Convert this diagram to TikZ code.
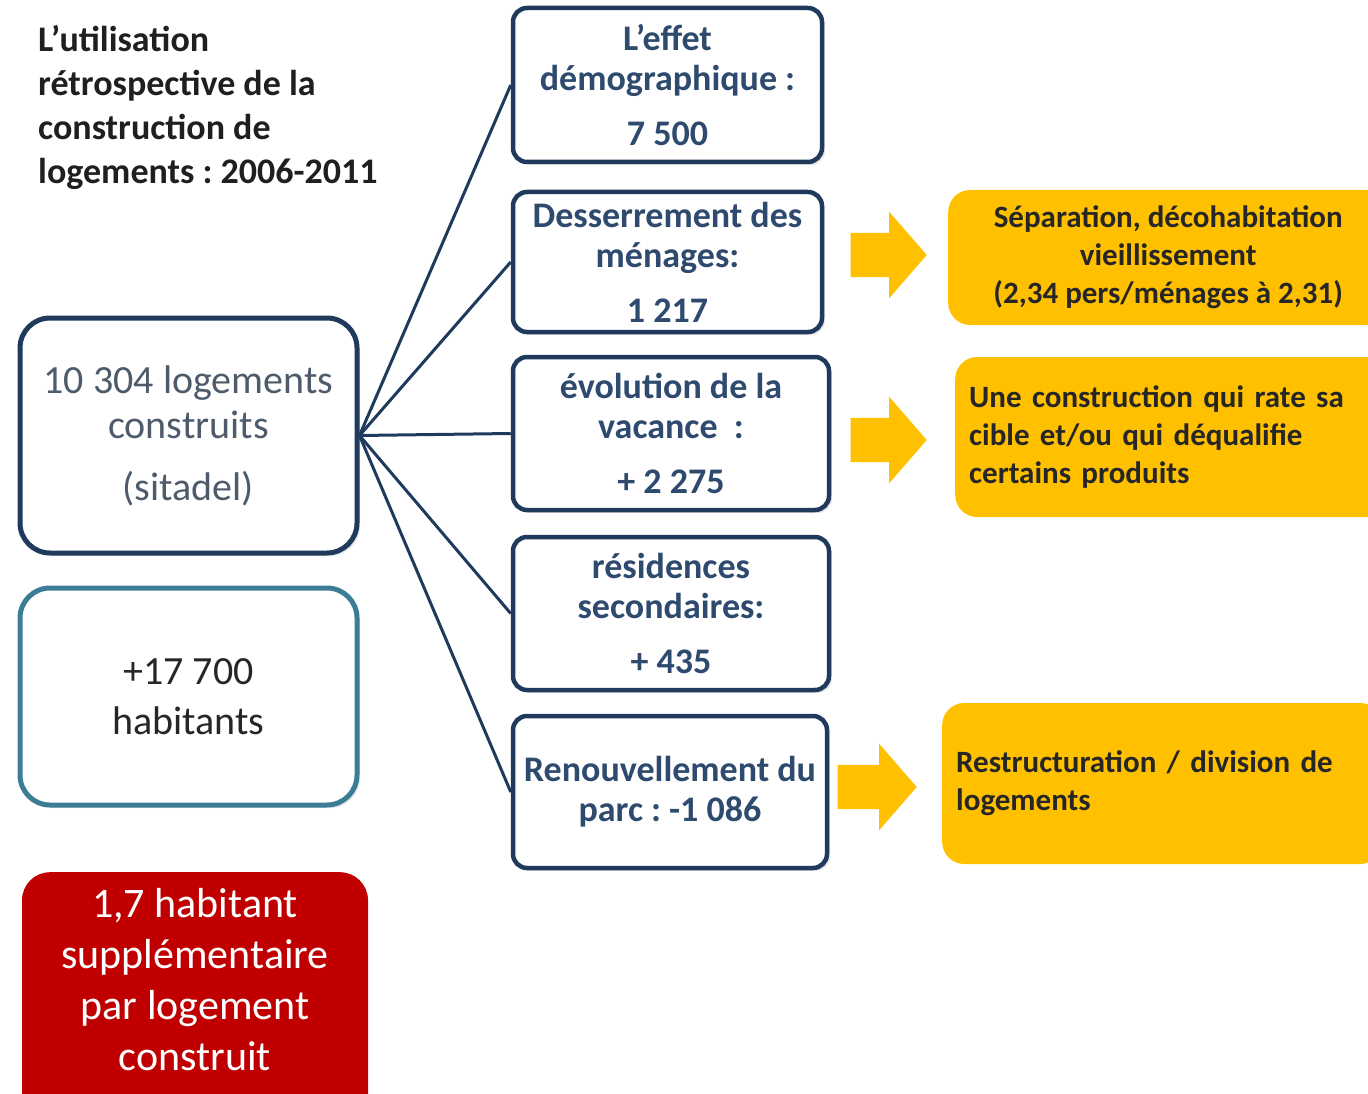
\documentclass[tikz,border=0pt]{standalone}
\usepackage{fontspec}
\setmainfont{Carlito}
\usepackage{tikz}
\usetikzlibrary{arrows.meta,positioning,shapes.arrows,shadows}
\usepackage{xcolor}
\definecolor{DeepNavy}{HTML}{1F3A5C}
\definecolor{NavyText}{HTML}{2E4A6E}
\definecolor{GreyText}{HTML}{4D5B6B}
\definecolor{SeaBlue}{HTML}{3C7D96}
\definecolor{Amber}{HTML}{FFC000}
\definecolor{Crimson}{HTML}{C00000}
\frenchspacing

\tikzset{
  softshadow/.style={drop shadow={opacity=0.18,shadow xshift=3pt,shadow yshift=-3pt}},
  navybox/.style={draw=DeepNavy,line width=4.5pt,rounded corners=14pt,fill=white,softshadow,
    align=center,text=NavyText,font=\fontsize{36}{40}\selectfont\bfseries,inner sep=0pt},
  bigbox/.style={line width=5pt,rounded corners=30pt,fill=white,softshadow,align=center,
    inner sep=0pt,minimum width=337pt},
  goldbox/.style={fill=Amber,rounded corners=22pt,text=black!85,
    font=\fontsize{31}{38}\selectfont\bfseries,inner xsep=14pt},
  goldarrow/.style={single arrow,fill=Amber,anchor=tip,minimum height=76pt,
    single arrow head extend=21pt,single arrow tip angle=98,inner xsep=0pt,inner ysep=22pt},
  link/.style={DeepNavy,line width=3pt}
}

\begin{document}
\begin{tikzpicture}[x=1pt,y=1pt]
  \useasboundingbox (0,0) rectangle (1368,-1094);

  % left column
  \node[anchor=north west,align=left,inner sep=0pt,text=black!88,
    font=\fontsize{36}{44}\selectfont\bfseries] (title) at (38,-25)
    {L’utilisation\\rétrospective de la\\construction de\\logements : 2006-2011};
  \node[bigbox,draw=DeepNavy,text=GreyText,minimum height=235pt,
    font=\fontsize{40}{45}\selectfont] (built) at (188.5,-435.5)
    {10 304 logements\\construits\\[17pt](sitadel)};
  \node[bigbox,draw=SeaBlue,text=black!85,minimum height=217pt,
    font=\fontsize{40}{50}\selectfont] (pop) at (188.5,-696.5)
    {+17 700\\habitants};
  \node[anchor=north,fill=Crimson,rounded corners=28pt,text=white,align=center,
    minimum width=346pt,inner xsep=0pt,inner ysep=16pt,text depth=230pt,
    font=\fontsize{42}{51}\selectfont] (ratio) at (195,-872)
    {1,7 habitant\\supplémentaire\\par logement\\construit};

  % middle column
  \node[navybox,minimum width=309pt,minimum height=154pt] (demo) at (667.5,-85)
    {L’effet\\démographique :\\[15pt]7 500};
  \node[navybox,minimum width=309pt,minimum height=140pt] (desserr) at (667.5,-262)
    {Desserrement des\\ménages:\\[15pt]1 217};
  \node[navybox,minimum width=316pt,minimum height=153pt] (vacance) at (671,-433.5)
    {évolution de la\\vacance~~:\\[15pt]+ 2 275};
  \node[navybox,minimum width=316pt,minimum height=153pt] (secres) at (671,-613.5)
    {résidences\\secondaires:\\[15pt]+ 435};
  \node[navybox,minimum width=314pt,minimum height=152pt] (renouv) at (670,-792)
    {Renouvellement du\\parc : -1 086};

  \foreach \t in {demo,desserr,vacance,secres,renouv}
    \draw[link] (built.east) -- (\t.west);

  % right column
  \node[goldarrow] (arr1) at (927,-255) {};
  \node[goldarrow] (arr2) at (927,-440) {};
  \node[goldarrow,minimum height=79pt] (arr3) at (917,-787) {};

  \node[goldbox,anchor=west,align=center,minimum width=440pt,minimum height=135pt] (sep) at (948,-257.5)
    {Séparation, décohabitation\\vieillissement\\(2,34 pers/ménages à 2,31)};
  \node[goldbox,anchor=west,align=left,text width=412pt,minimum height=160pt] (cible) at (955,-437)
    {Une construction qui rate sa\\cible et/ou qui déqualifie\\certains produits};
  \node[goldbox,anchor=west,align=left,text width=412pt,minimum height=161pt] (restr) at (942,-783.5)
    {Restructuration / division de\\logements};
\end{tikzpicture}
\end{document}
